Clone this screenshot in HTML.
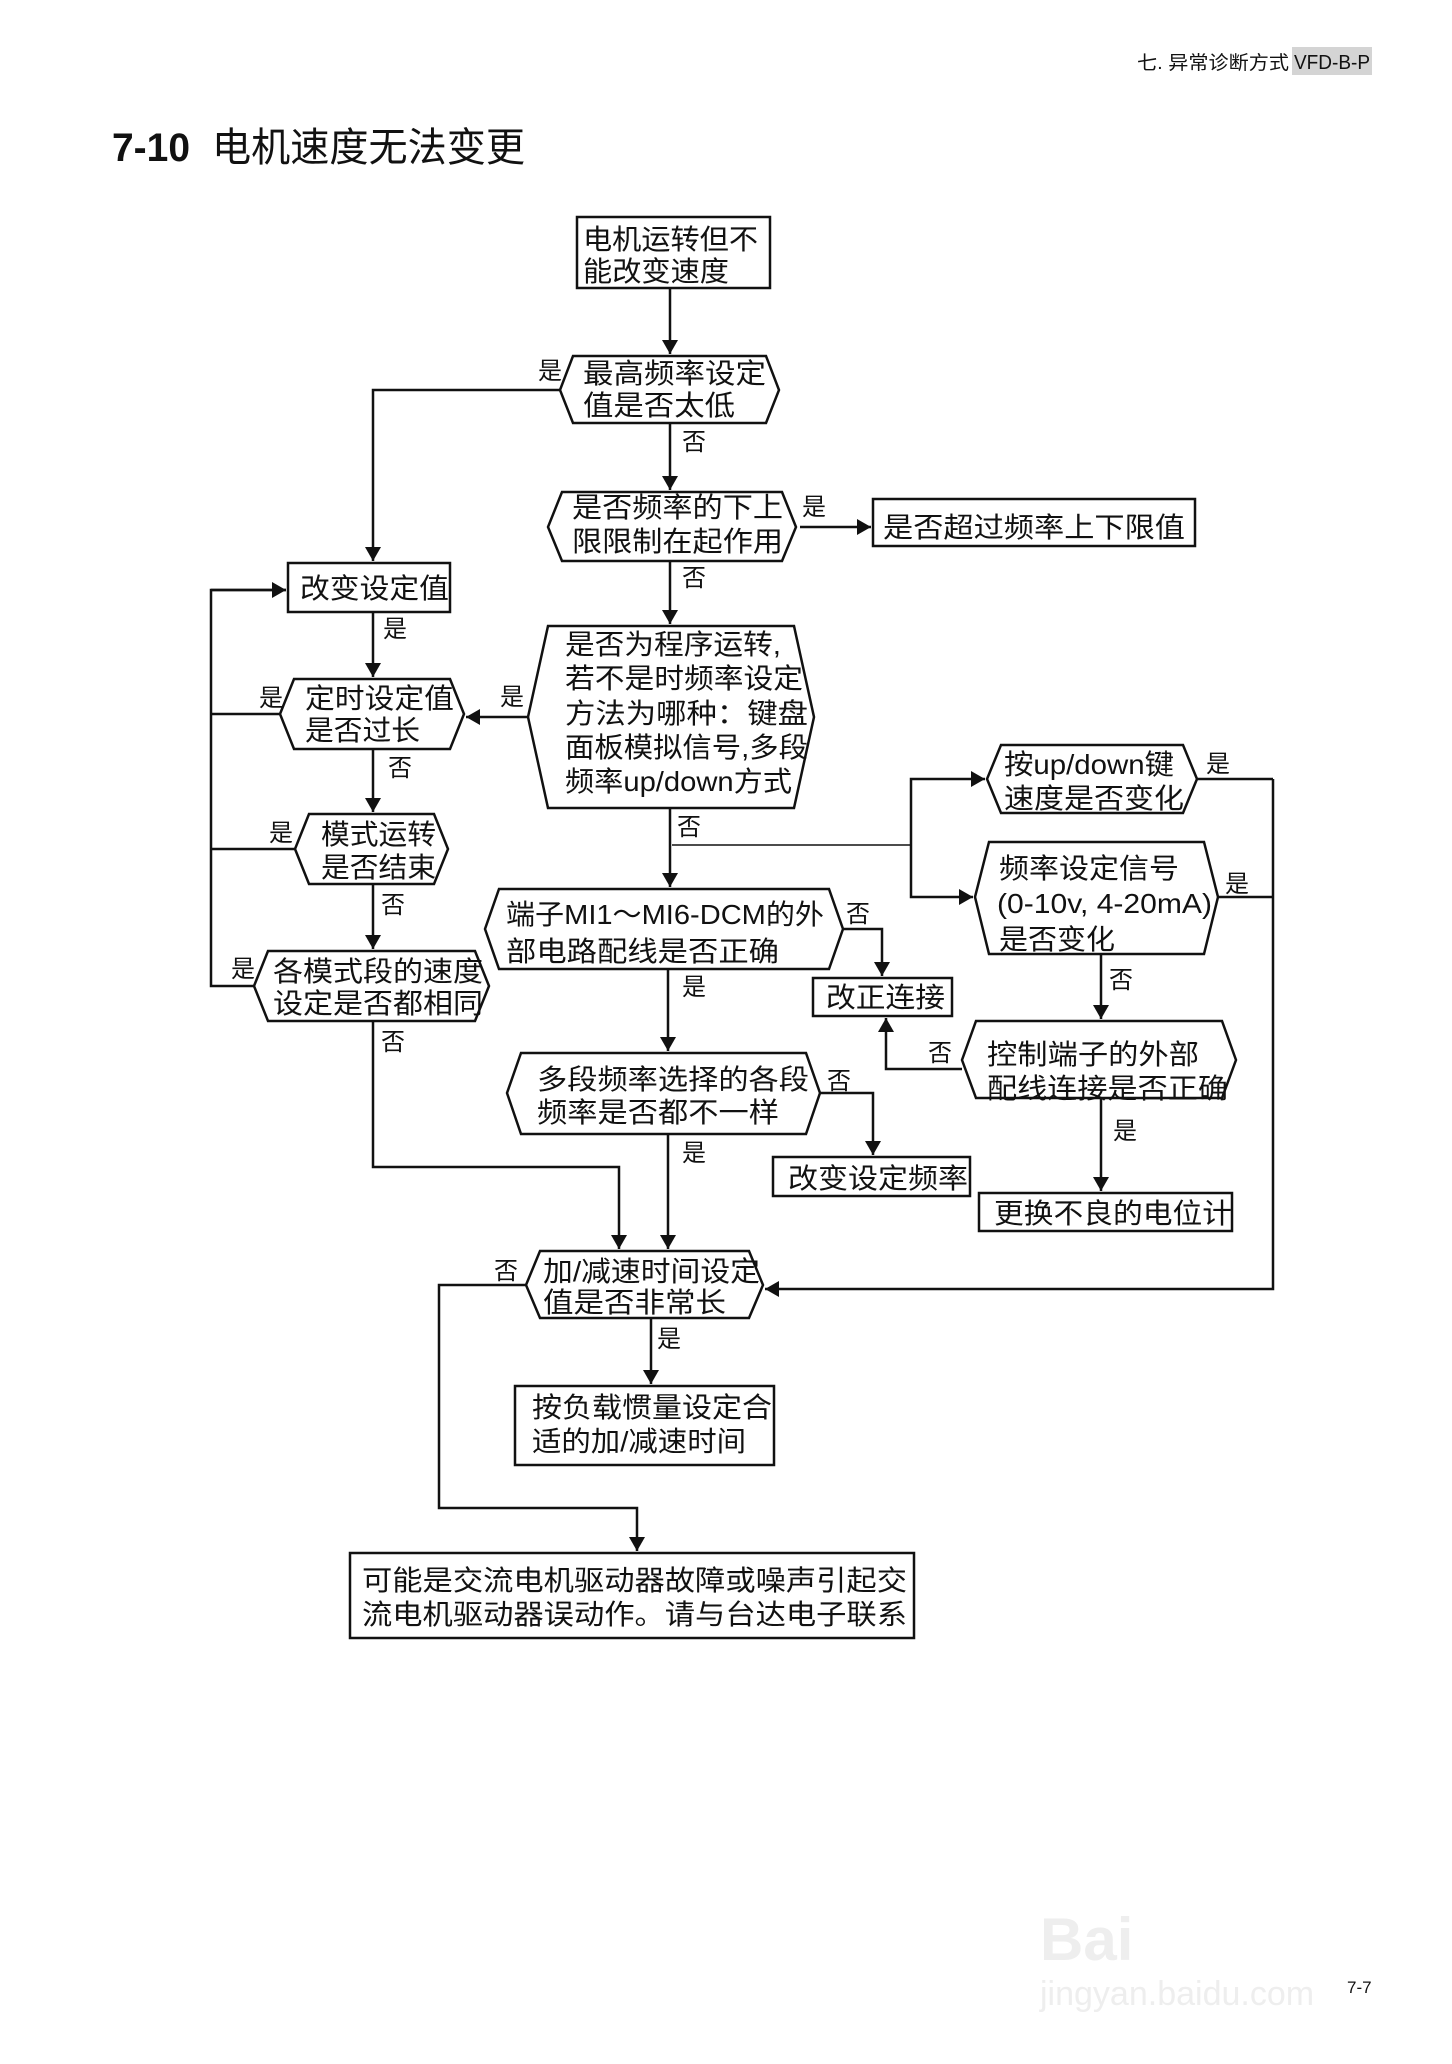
<!DOCTYPE html>
<html><head><meta charset="utf-8"><style>
html,body{margin:0;padding:0;background:#fff;}
svg{display:block;}
text{font-family:"Liberation Sans","Noto Sans CJK SC",sans-serif;fill:#111;}
.t{font-size:28px;}
.l{font-size:24px;}
</style></head><body>
<svg width="1452" height="2064" viewBox="0 0 1452 2064" xmlns="http://www.w3.org/2000/svg">
<defs><marker id="a" markerWidth="10" markerHeight="10" refX="9" refY="5" orient="auto" markerUnits="userSpaceOnUse" viewBox="0 0 10 10"><path d="M0,0 L10,5 L0,10z" fill="#111"/></marker>
<marker id="b" markerWidth="14" markerHeight="16" refX="14" refY="8" orient="auto" markerUnits="userSpaceOnUse"><path d="M0,0 L14,8 L0,16z" fill="#111"/></marker></defs>
<rect x="1292" y="47" width="80" height="28" fill="#d4d4d4"/>
<text x="1137" y="69" style="font-size:19px" textLength="152" lengthAdjust="spacingAndGlyphs">七. 异常诊断方式</text>
<text x="1294" y="69" style="font-size:20px" textLength="76" lengthAdjust="spacingAndGlyphs">VFD-B-P</text>
<text x="112" y="161" style="font-size:40px;font-weight:bold" textLength="78" lengthAdjust="spacingAndGlyphs">7-10</text>
<text x="212" y="161" style="font-size:40px" textLength="313" lengthAdjust="spacingAndGlyphs">电机速度无法变更</text>
<g fill="#fff" stroke="#111" stroke-width="2.5">
<rect x="577" y="217" width="193" height="71"/>
<polygon points="573,356 766,356 779,390 766,423 573,423 560,390"/>
<polygon points="562,492 782,492 796,527 782,561 562,561 548,527"/>
<rect x="873" y="499" width="322" height="47"/>
<rect x="288" y="563" width="162" height="49"/>
<polygon points="548,626 794,626 814,717 794,808 548,808 528,717"/>
<polygon points="294,679 450,679 464,714 450,749 294,749 280,714"/>
<polygon points="309,814 434,814 448,849 434,884 309,884 295,849"/>
<polygon points="268,951 475,951 489,986 475,1021 268,1021 254,986"/>
<polygon points="1001,745 1183,745 1197,779 1183,813 1001,813 987,779"/>
<polygon points="989,842 1204,842 1218,897 1204,954 989,954 975,897"/>
<polygon points="499,889 829,889 843,929 829,969 499,969 485,929"/>
<rect x="813" y="978" width="139" height="38"/>
<polygon points="976,1021 1222,1021 1236,1060 1222,1098 976,1098 962,1060"/>
<polygon points="521,1053 806,1053 820,1093 806,1134 521,1134 507,1093"/>
<rect x="773" y="1157" width="197" height="39"/>
<rect x="979" y="1193" width="253" height="38"/>
<polygon points="540,1251 749,1251 763,1285 749,1318 540,1318 526,1285"/>
<rect x="515" y="1386" width="259" height="79"/>
<rect x="350" y="1553" width="564" height="85"/>
</g>
<g fill="none" stroke="#111" stroke-width="2.5">
<path d="M670,288 V354" marker-end="url(#b)"/>
<path d="M670,423 V490" marker-end="url(#b)"/>
<path d="M800,527 H871" marker-end="url(#b)"/>
<path d="M560,390 H373 V561" marker-end="url(#b)"/>
<path d="M670,561 V624" marker-end="url(#b)"/>
<path d="M373,612 V677" marker-end="url(#b)"/>
<path d="M528,717 H466" marker-end="url(#b)"/>
<path d="M373,749 V812" marker-end="url(#b)"/>
<path d="M373,884 V949" marker-end="url(#b)"/>
<path d="M280,714 H211 M295,849 H211 M254,986 H211 V590 H286" />
<path d="M211,590 H286" marker-end="url(#b)"/>
<path d="M670,808 V887" marker-end="url(#b)"/>
<path d="M672,845 H911" stroke-width="1.5"/>
<path d="M911,845 V779 H985" marker-end="url(#b)"/>
<path d="M911,845 V897 H973" marker-end="url(#b)"/>
<path d="M1197,779 H1273 M1218,897 H1273 M1273,779 V1289 H765" marker-end="url(#b)"/>
<path d="M843,929 H882 V976" marker-end="url(#b)"/>
<path d="M962,1069 H886 V1018" marker-end="url(#b)"/>
<path d="M1101,954 V1019" marker-end="url(#b)"/>
<path d="M1101,1098 V1191" marker-end="url(#b)"/>
<path d="M668,969 V1051" marker-end="url(#b)"/>
<path d="M820,1093 H873 V1155" marker-end="url(#b)"/>
<path d="M668,1134 V1249" marker-end="url(#b)"/>
<path d="M373,1021 V1167 H619 V1249" marker-end="url(#b)"/>
<path d="M526,1285 H439 V1508 H637 V1551" marker-end="url(#b)"/>
<path d="M651,1318 V1384" marker-end="url(#b)"/>
</g>
<g class="t">
<text x="583" y="249" textLength="175" lengthAdjust="spacingAndGlyphs">电机运转但不</text>
<text x="583" y="281" textLength="146" lengthAdjust="spacingAndGlyphs">能改变速度</text>
<text x="583" y="383" textLength="183" lengthAdjust="spacingAndGlyphs">最高频率设定</text>
<text x="583" y="415" textLength="152" lengthAdjust="spacingAndGlyphs">值是否太低</text>
<text x="572" y="517" textLength="211" lengthAdjust="spacingAndGlyphs">是否频率的下上</text>
<text x="572" y="551" textLength="211" lengthAdjust="spacingAndGlyphs">限限制在起作用</text>
<text x="883" y="537" textLength="302" lengthAdjust="spacingAndGlyphs">是否超过频率上下限值</text>
<text x="300" y="598" textLength="149" lengthAdjust="spacingAndGlyphs">改变设定值</text>
<text x="565" y="654" textLength="216" lengthAdjust="spacingAndGlyphs">是否为程序运转,</text>
<text x="565" y="688" textLength="238" lengthAdjust="spacingAndGlyphs">若不是时频率设定</text>
<text x="565" y="723" textLength="243" lengthAdjust="spacingAndGlyphs">方法为哪种：键盘</text>
<text x="565" y="757" textLength="243" lengthAdjust="spacingAndGlyphs">面板模拟信号,多段</text>
<text x="565" y="791" textLength="227" lengthAdjust="spacingAndGlyphs">频率up/down方式</text>
<text x="305" y="708" textLength="149" lengthAdjust="spacingAndGlyphs">定时设定值</text>
<text x="305" y="740" textLength="115" lengthAdjust="spacingAndGlyphs">是否过长</text>
<text x="321" y="844" textLength="115" lengthAdjust="spacingAndGlyphs">模式运转</text>
<text x="321" y="877" textLength="115" lengthAdjust="spacingAndGlyphs">是否结束</text>
<text x="273" y="981" textLength="210" lengthAdjust="spacingAndGlyphs">各模式段的速度</text>
<text x="273" y="1013" textLength="210" lengthAdjust="spacingAndGlyphs">设定是否都相同</text>
<text x="1004" y="774" textLength="170" lengthAdjust="spacingAndGlyphs">按up/down键</text>
<text x="1004" y="808" textLength="180" lengthAdjust="spacingAndGlyphs">速度是否变化</text>
<text x="999" y="878" textLength="180" lengthAdjust="spacingAndGlyphs">频率设定信号</text>
<text x="997" y="913" textLength="215" lengthAdjust="spacingAndGlyphs">(0-10v, 4-20mA)</text>
<text x="999" y="949" textLength="116" lengthAdjust="spacingAndGlyphs">是否变化</text>
<text x="506" y="924" textLength="318" lengthAdjust="spacingAndGlyphs">端子MI1～MI6-DCM的外</text>
<text x="506" y="961" textLength="273" lengthAdjust="spacingAndGlyphs">部电路配线是否正确</text>
<text x="826" y="1007" textLength="119" lengthAdjust="spacingAndGlyphs">改正连接</text>
<text x="987" y="1064" textLength="212" lengthAdjust="spacingAndGlyphs">控制端子的外部</text>
<text x="987" y="1098" textLength="241" lengthAdjust="spacingAndGlyphs">配线连接是否正确</text>
<text x="537" y="1089" textLength="272" lengthAdjust="spacingAndGlyphs">多段频率选择的各段</text>
<text x="537" y="1122" textLength="242" lengthAdjust="spacingAndGlyphs">频率是否都不一样</text>
<text x="788" y="1188" textLength="180" lengthAdjust="spacingAndGlyphs">改变设定频率</text>
<text x="994" y="1223" textLength="238" lengthAdjust="spacingAndGlyphs">更换不良的电位计</text>
<text x="543" y="1281" textLength="217" lengthAdjust="spacingAndGlyphs">加/减速时间设定</text>
<text x="543" y="1312" textLength="183" lengthAdjust="spacingAndGlyphs">值是否非常长</text>
<text x="532" y="1417" textLength="240" lengthAdjust="spacingAndGlyphs">按负载惯量设定合</text>
<text x="532" y="1451" textLength="214" lengthAdjust="spacingAndGlyphs">适的加/减速时间</text>
<text x="362" y="1590" textLength="545" lengthAdjust="spacingAndGlyphs">可能是交流电机驱动器故障或噪声引起交</text>
<text x="362" y="1624" textLength="545" lengthAdjust="spacingAndGlyphs">流电机驱动器误动作。请与台达电子联系</text>
</g>
<g class="l">
<text x="538" y="379">是</text>
<text x="682" y="450">否</text>
<text x="802" y="515">是</text>
<text x="682" y="586">否</text>
<text x="383" y="637">是</text>
<text x="500" y="705">是</text>
<text x="259" y="706">是</text>
<text x="388" y="776">否</text>
<text x="269" y="841">是</text>
<text x="381" y="913">否</text>
<text x="231" y="977">是</text>
<text x="381" y="1050">否</text>
<text x="677" y="835">否</text>
<text x="1206" y="772">是</text>
<text x="1225" y="892">是</text>
<text x="846" y="922">否</text>
<text x="682" y="995">是</text>
<text x="1109" y="988">否</text>
<text x="928" y="1061">否</text>
<text x="827" y="1089">否</text>
<text x="1113" y="1139">是</text>
<text x="682" y="1161">是</text>
<text x="494" y="1279">否</text>
<text x="657" y="1347">是</text>
</g>
<text x="1347" y="1993" style="font-size:17px">7-7</text>
<text x="1040" y="1960" style="font-size:60px;font-weight:bold;fill:#eee">Bai</text>
<text x="1040" y="2005" style="font-size:34px;fill:#eee">jingyan.baidu.com</text>
</svg>
</body></html>
